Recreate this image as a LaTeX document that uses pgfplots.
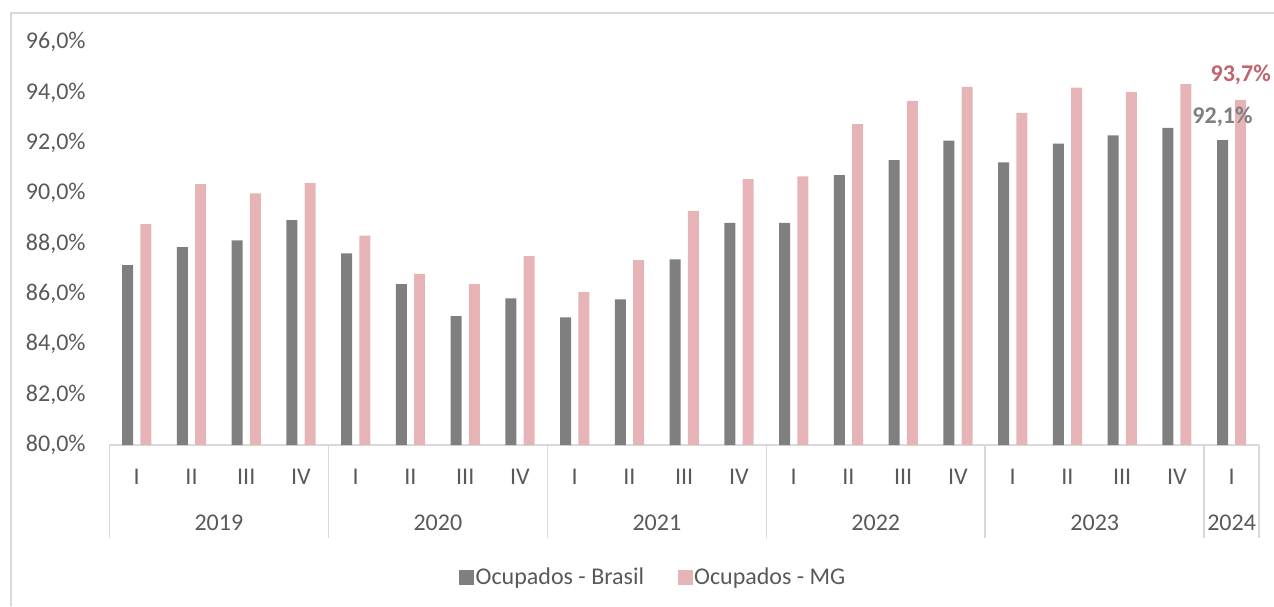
\documentclass[border=0pt]{standalone}
\usepackage{pgfplots}
\pgfplotsset{compat=1.18}
\usepackage{fontspec}
\setmainfont{Carlito}
\definecolor{barGray}{HTML}{7F7F7F}
\definecolor{barPink}{HTML}{E6B4B7}
\definecolor{lblRed}{HTML}{C0646C}
\definecolor{txtGray}{HTML}{595959}
\definecolor{lineGray}{HTML}{D9D9D9}
\newcommand{\lblfont}{\fontsize{12}{14}\selectfont}
\begin{document}
\begin{tikzpicture}
\path[use as bounding box] (0,0) rectangle (637pt,303pt);
\draw[lineGray, line width=0.8pt] (5.5pt,0) -- (5.5pt,296.5pt) -- (637pt,296.5pt);
\begin{axis}[
  at={(54.7pt,80.5pt)}, anchor=south west,
  scale only axis, width=574.8pt, height=201.5pt,
  xmin=-0.5, xmax=20.5, ymin=80, ymax=96,
  clip=true, clip mode=individual,
  axis x line*=bottom, axis y line*=left,
  x axis line style={lineGray, line width=0.8pt},
  y axis line style={draw=none},
  major tick length=0pt,
  /pgf/number format/assume math mode=true,
  ytick={80,82,84,86,88,90,92,94,96},
  yticklabels={{80,0\%},{82,0\%},{84,0\%},{86,0\%},{88,0\%},{90,0\%},{92,0\%},{94,0\%},{96,0\%}},
  yticklabel style={anchor=east, inner sep=0pt, xshift=-11.7pt, text=txtGray, font=\lblfont},
  xtick={0,...,20},
  xticklabels={I,II,III,IV,I,II,III,IV,I,II,III,IV,I,II,III,IV,I,II,III,IV,I},
  xticklabel style={anchor=center, inner sep=0pt, yshift=-16pt, text=txtGray, font=\lblfont},
  legend style={at={(0.4729,-0.330)}, anchor=center, draw=none, fill=none,
    legend columns=2, font=\lblfont, text=txtGray,
    nodes={inner xsep=0.75pt},
    /tikz/every even column/.append style={column sep=16pt}},
  legend cell align=left,
  legend image code/.code={\fill[#1] (0pt,-3.6pt) rectangle (7.5pt,3.9pt);},
]
\addplot[ybar, bar width=5.5pt, bar shift=-4.55pt, fill=barGray, draw=none] coordinates {
(0,87.14) (1,87.86) (2,88.12) (3,88.93)
(4,87.61) (5,86.39) (6,85.12) (7,85.82)
(8,85.07) (9,85.78) (10,87.37) (11,88.82)
(12,88.82) (13,90.71) (14,91.31) (15,92.08)
(16,91.22) (17,91.97) (18,92.29) (19,92.59)
(20,92.1)};
\addlegendentry{Ocupados - Brasil}
\addplot[ybar, bar width=5.5pt, bar shift=4.55pt, fill=barPink, draw=none] coordinates {
(0,88.77) (1,90.36) (2,89.99) (3,90.40)
(4,88.31) (5,86.79) (6,86.39) (7,87.50)
(8,86.07) (9,87.34) (10,89.30) (11,90.56)
(12,90.67) (13,92.74) (14,93.66) (15,94.22)
(16,93.19) (17,94.19) (18,94.01) (19,94.33)
(20,93.7)};
\addlegendentry{Ocupados - MG}
\pgfplotsinvokeforeach{-0.5,3.5,7.5,11.5,15.5,19.5,20.5}{
  \draw[lineGray, line width=0.8pt] (axis cs:#1,80) -- ++(0pt,-46.5pt);
}
\node[text=txtGray, font=\lblfont, yshift=-39pt] at (axis cs:1.5,80) {2019};
\node[text=txtGray, font=\lblfont, yshift=-39pt] at (axis cs:5.5,80) {2020};
\node[text=txtGray, font=\lblfont, yshift=-39pt] at (axis cs:9.5,80) {2021};
\node[text=txtGray, font=\lblfont, yshift=-39pt] at (axis cs:13.5,80) {2022};
\node[text=txtGray, font=\lblfont, yshift=-39pt] at (axis cs:17.5,80) {2023};
\node[text=txtGray, font=\lblfont, yshift=-39pt] at (axis cs:20,80) {2024};
\node[text=barGray, font=\lblfont\bfseries, xshift=-4.55pt, yshift=11.75pt, inner sep=0pt] at (axis cs:20,92.1) {92,1\%};
\node[text=lblRed, font=\lblfont\bfseries, xshift=4.55pt, yshift=12.35pt, inner sep=0pt] at (axis cs:20,93.7) {93,7\%};
\end{axis}
\end{tikzpicture}
\end{document}
